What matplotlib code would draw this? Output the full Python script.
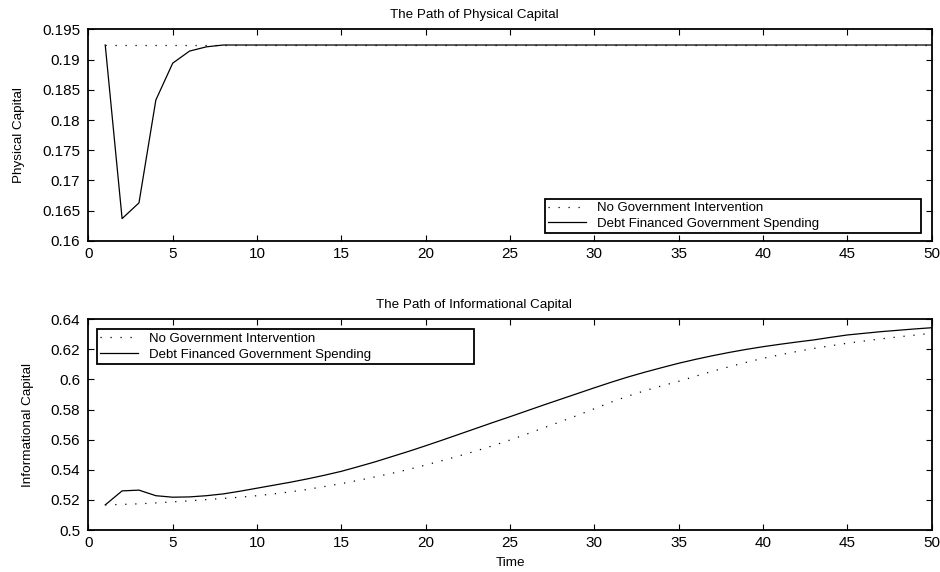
import numpy as np
from matplotlib import pyplot as plt
from matplotlib.ticker import FormatStrFormatter

plt.rcParams['font.family'] = ['Liberation Sans', 'DejaVu Sans']

t = np.arange(1, 51)

# physical capital
k_none = [0.1924] * 50
k_debt = [0.1924, 0.1637, 0.1663, 0.1833, 0.1894, 0.1914, 0.1921, 0.1924] + [0.1924] * 42

# informational capital
h_none = [0.5167, 0.5170, 0.5174, 0.5180, 0.5187, 0.5194, 0.5202, 0.5210, 0.5218, 0.5228,
          0.5240, 0.5254, 0.5270, 0.5289, 0.5308, 0.5330, 0.5353, 0.5377, 0.5403, 0.5432,
          0.5462, 0.5493, 0.5526, 0.5561, 0.5598, 0.5638, 0.5679, 0.5720, 0.5762, 0.5806,
          0.5850, 0.5890, 0.5926, 0.5958, 0.5988, 0.6022, 0.6055, 0.6085, 0.6114, 0.6141,
          0.6164, 0.6186, 0.6206, 0.6224, 0.6241, 0.6256, 0.6270, 0.6283, 0.6295, 0.6307]
h_debt = [0.5167, 0.5260, 0.5265, 0.5228, 0.5218, 0.5220, 0.5228, 0.5240, 0.5258, 0.5278,
          0.5298, 0.5318, 0.5340, 0.5364, 0.5390, 0.5421, 0.5453, 0.5488, 0.5523, 0.5560,
          0.5598, 0.5637, 0.5676, 0.5715, 0.5753, 0.5792, 0.5831, 0.5869, 0.5907, 0.5945,
          0.5982, 0.6017, 0.6049, 0.6079, 0.6108, 0.6134, 0.6158, 0.6180, 0.6200, 0.6218,
          0.6234, 0.6249, 0.6263, 0.6280, 0.6296, 0.6307, 0.6318, 0.6327, 0.6336, 0.6344]

labels = ['No Government Intervention', 'Debt Financed Government Spending']

fig = plt.figure(figsize=(9.4, 5.72), dpi=100)
ax1 = fig.add_axes([0.094, 0.5787, 0.8973, 0.3701])
ax2 = fig.add_axes([0.094, 0.0734, 0.8973, 0.3684])

dots = (0, (1, 7))

def style(ax):
    ax.set_xlim(0, 50)
    ax.set_xticks(np.arange(0, 51, 5))
    ax.tick_params(direction='in', top=True, right=True, length=4, labelsize=11,
                   width=0.8, pad=4)
    ax.tick_params(axis='y', pad=6)
    ax.yaxis.set_major_formatter(FormatStrFormatter('%g'))
    for s in ax.spines.values():
        s.set_linewidth(1.3)

def legend(ax, box, loc):
    leg = ax.legend(loc=loc, bbox_to_anchor=box, mode='expand', fontsize=9.5,
                    fancybox=False, framealpha=1, edgecolor='k', borderaxespad=0,
                    handlelength=2.9, handletextpad=0.8, borderpad=0.25,
                    labelspacing=0.27)
    leg.get_frame().set_linewidth(1.3)

#Plotting physical capital
ax1.plot(t, k_none, color='k', lw=0.9, linestyle=dots, label=labels[0])
ax1.plot(t, k_debt, color='k', lw=0.9, label=labels[1])
ax1.set_ylim(0.16, 0.195)
ax1.set_yticks(np.arange(0.16, 0.1951, 0.005))
style(ax1)
ax1.set_ylabel('Physical Capital', fontsize=9.7, labelpad=12)
ax1.set_title('The Path of Physical Capital', fontsize=9.6, pad=8, x=0.457)
legend(ax1, (0.541, 0.036, 0.446, 0.166), 'lower left')

#Plotting informational capital
ax2.plot(t, h_none, color='k', lw=0.9, linestyle=dots, label=labels[0])
ax2.plot(t, h_debt, color='k', lw=0.9, label=labels[1])
ax2.set_ylim(0.5, 0.64)
ax2.set_yticks(np.arange(0.5, 0.6401, 0.02))
style(ax2)
ax2.set_ylabel('Informational Capital', fontsize=9.7, labelpad=12)
ax2.set_xlabel('Time', fontsize=9.7, labelpad=5)
ax2.set_title('The Path of Informational Capital', fontsize=9.6, pad=8, x=0.457)
legend(ax2, (0.0097, 0.799, 0.448, 0.1535), 'upper left')

plt.savefig('out.png', dpi=100)
